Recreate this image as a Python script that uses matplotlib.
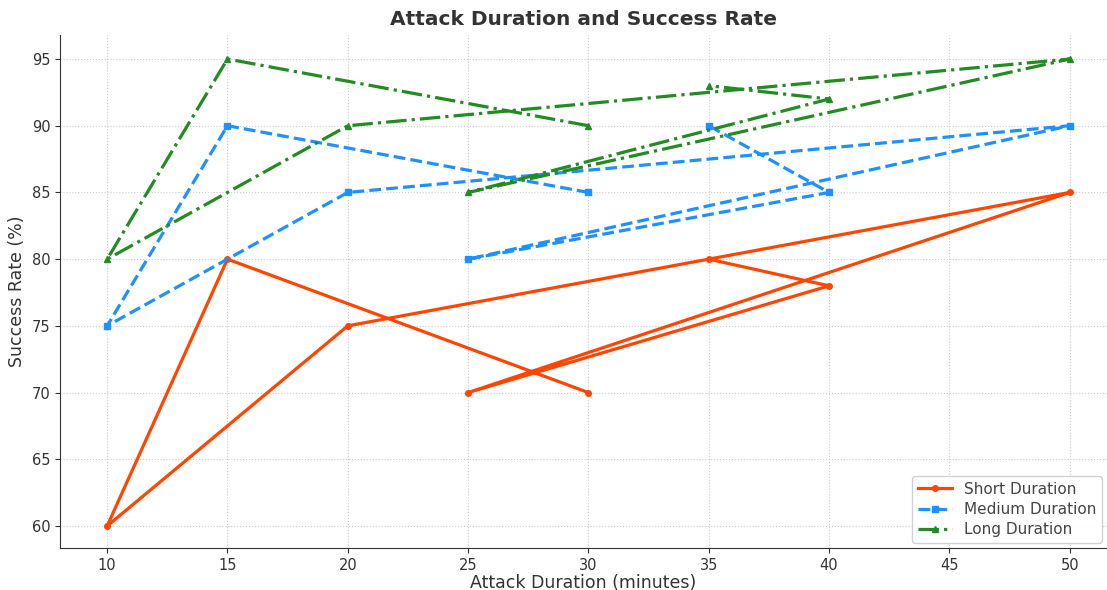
import matplotlib
matplotlib.use('Agg')
import matplotlib.pyplot as plt

plt.rcParams['font.family'] = ['DejaVu Sans']

# data in the order it was plotted (the lines zig-zag because of this order)
durations = [30, 15, 10, 20, 50, 25, 40, 35]
short_rate = [70, 80, 60, 75, 85, 70, 78, 80]
medium_rate = [85, 90, 75, 85, 90, 80, 85, 90]
long_rate = [90, 95, 80, 90, 95, 85, 92, 93]

series = [
    ('Short Duration', short_rate, '#FF4500', '-', 'o'),
    ('Medium Duration', medium_rate, '#1E90FF', '--', 's'),
    ('Long Duration', long_rate, '#228B22', '-.', '^'),
]

fig = plt.figure(figsize=(11.07, 5.9), dpi=100)
ax = fig.add_axes([60 / 1107, 42 / 590, 1047 / 1107, 513 / 590])

for label, vals, color, ls, mk in series:
    ax.plot(durations, vals, color=color, linestyle=ls, marker=mk,
            markersize=4, linewidth=2.3, label=label)

ax.set_xlim(8.04, 51.55)
ax.set_ylim(58.35, 96.8)
ax.set_xticks([10, 15, 20, 25, 30, 35, 40, 45, 50])
ax.set_yticks([60, 65, 70, 75, 80, 85, 90, 95])
ax.tick_params(labelsize=10.5, colors='#333333', length=3.5)

ax.set_title('Attack Duration and Success Rate', fontsize=14.5, fontweight='bold',
             color='#333333', pad=7)
ax.set_xlabel('Attack Duration (minutes)', fontsize=12.5, color='#333333', labelpad=1)
ax.set_ylabel('Success Rate (%)', fontsize=12.5, color='#333333', labelpad=4)

ax.grid(True, linestyle=':', color='#cccccc', linewidth=0.8)
ax.spines['top'].set_visible(False)
ax.spines['right'].set_visible(False)
for s in ('left', 'bottom'):
    ax.spines[s].set_color('#333333')

ax.legend(loc='lower right', fontsize=11, frameon=True, framealpha=0.9,
          labelcolor='#444444', borderaxespad=0.3, handlelength=2.2,
          labelspacing=0.35)

fig.savefig('out.png', dpi=100)
